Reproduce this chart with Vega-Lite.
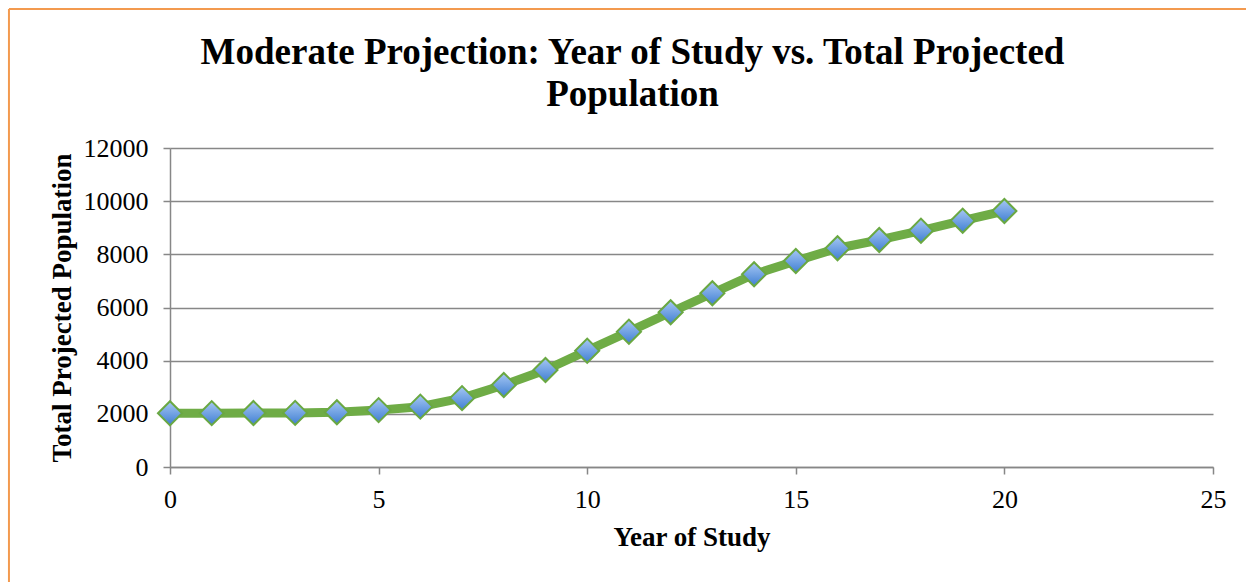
{
  "$schema": "https://vega.github.io/schema/vega-lite/v6.json",
  "autosize": {"type": "none"},
  "width": 1043,
  "height": 319,
  "padding": {"left": 170, "top": 148, "right": 33, "bottom": 115},
  "background": "white",
  "config": {
    "view": {"stroke": null},
    "font": "Liberation Serif",
    "axis": {
      "labelFont": "Liberation Serif",
      "titleFont": "Liberation Serif",
      "labelColor": "black",
      "titleColor": "black",
      "domainColor": "#878787",
      "domainWidth": 1.5,
      "tickColor": "#878787",
      "tickWidth": 1.5,
      "tickSize": 7,
      "gridColor": "#878787",
      "gridWidth": 1.5
    }
  },
  "title": {
    "text": ["Moderate Projection: Year of Study vs. Total Projected", "Population"],
    "font": "Liberation Serif",
    "fontSize": 37,
    "fontWeight": "bold",
    "color": "black",
    "anchor": "middle",
    "frame": "group",
    "dx": -59,
    "lineHeight": 42,
    "baseline": "alphabetic",
    "offset": -135
  },
  "layer": [
    {
      "description": "Chart frame: left and top edges",
      "data": {"values": [{"x0": -3.86, "x1": 27, "ybot": -4700, "ytop": 17229}]},
      "layer": [
        {
          "mark": {"type": "rule", "color": "#f39a4f", "strokeWidth": 2},
          "encoding": {
            "x": {"field": "x0", "type": "quantitative", "scale": {"domain": [0, 25], "nice": false, "zero": false}},
            "y": {"field": "ybot", "type": "quantitative", "scale": {"domain": [0, 12000], "nice": false}},
            "y2": {"field": "ytop"}
          }
        },
        {
          "mark": {"type": "rule", "color": "#f39a4f", "strokeWidth": 2},
          "encoding": {
            "x": {"field": "x0", "type": "quantitative", "scale": {"domain": [0, 25], "nice": false, "zero": false}},
            "x2": {"field": "x1"},
            "y": {"field": "ytop", "type": "quantitative", "scale": {"domain": [0, 12000], "nice": false}}
          }
        }
      ]
    },
    {
      "data": {
        "values": [
          {"year": 0, "population": 2020},
          {"year": 1, "population": 2025},
          {"year": 2, "population": 2030},
          {"year": 3, "population": 2035},
          {"year": 4, "population": 2060},
          {"year": 5, "population": 2140},
          {"year": 6, "population": 2270},
          {"year": 7, "population": 2590},
          {"year": 8, "population": 3085},
          {"year": 9, "population": 3650},
          {"year": 10, "population": 4375},
          {"year": 11, "population": 5090},
          {"year": 12, "population": 5820},
          {"year": 13, "population": 6535},
          {"year": 14, "population": 7250},
          {"year": 15, "population": 7750},
          {"year": 16, "population": 8230},
          {"year": 17, "population": 8540},
          {"year": 18, "population": 8890},
          {"year": 19, "population": 9265},
          {"year": 20, "population": 9630}
        ]
      },
      "encoding": {
        "x": {
          "field": "year",
          "type": "quantitative",
          "scale": {"domain": [0, 25], "nice": false, "zero": false},
          "axis": {
            "title": "Year of Study",
            "values": [0, 5, 10, 15, 20, 25],
            "labelFontSize": 26,
            "labelFlush": false,
            "labelPadding": 12,
            "titleFontSize": 27,
            "titleFontWeight": "bold",
            "titlePadding": 12,
            "grid": false
          }
        },
        "y": {
          "field": "population",
          "type": "quantitative",
          "scale": {"domain": [0, 12000], "nice": false},
          "axis": {
            "title": "Total Projected Population",
            "values": [0, 2000, 4000, 6000, 8000, 10000, 12000],
            "format": "d",
            "labelFontSize": 26,
            "labelPadding": 15,
            "labelFlush": false,
            "titleFontSize": 27,
            "titleFontWeight": "bold",
            "titlePadding": 7,
            "grid": true
          }
        }
      },
      "layer": [
        {
          "mark": {"type": "line", "color": "#6fac46", "strokeWidth": 9, "strokeJoin": "round"}
        },
        {
          "mark": {
            "type": "point",
            "shape": "diamond",
            "size": 580,
            "filled": true,
            "opacity": 1,
            "fill": {
              "gradient": "linear",
              "x1": 0, "y1": 0, "x2": 0, "y2": 1,
              "stops": [
                {"offset": 0, "color": "#a7c8f4"},
                {"offset": 1, "color": "#3f7ed2"}
              ]
            },
            "stroke": "#6aa842",
            "strokeWidth": 2
          }
        }
      ]
    }
  ]
}
